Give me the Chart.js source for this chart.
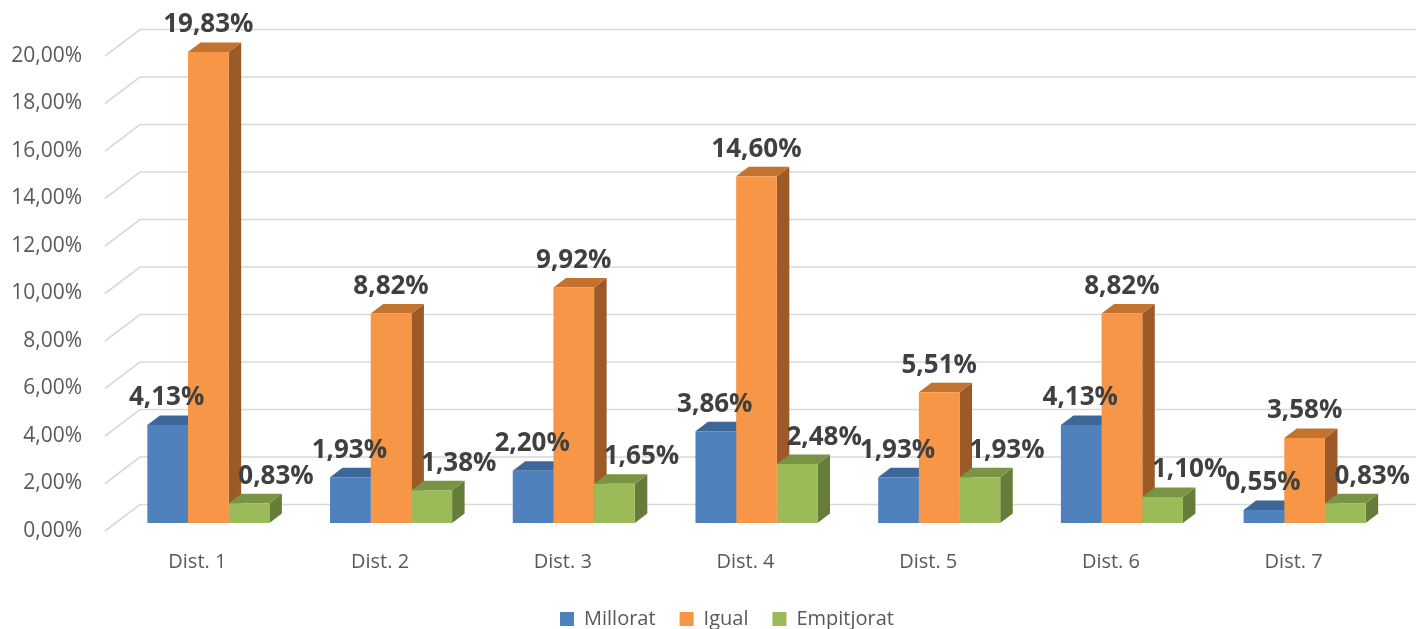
<!DOCTYPE html>
<html><head><meta charset="utf-8">
<script src="https://cdn.jsdelivr.net/npm/chart.js@4.4.1/dist/chart.umd.min.js"></script>
<style>html,body{margin:0;padding:0;background:#fff;overflow:hidden}</style>
</head><body>
<canvas id="c" width="1416" height="629" style="display:block;width:1416px;height:629px"></canvas>
<script>
// ---- data ----
const categories = ['Dist. 1','Dist. 2','Dist. 3','Dist. 4','Dist. 5','Dist. 6','Dist. 7'];
const seriesNames = ['Millorat','Igual','Empitjorat'];
const millorat   = [4.13, 1.93, 2.20, 3.86, 1.93, 4.13, 0.55];
const igual      = [19.83, 8.82, 9.92, 14.60, 5.51, 8.82, 3.58];
const empitjorat = [0.83, 1.38, 1.65, 2.48, 1.93, 1.10, 0.83];
const yTickValues = [0, 2, 4, 6, 8, 10, 12, 14, 16, 18, 20];

// ---- style ----
const FONT = '"Open Sans", "Noto Sans", sans-serif';
const GREY = '#595959';
const DEPTH = {dx: 12.5, dy: -9.5};
const LEGEND_SHIFT = 29;
const fmt = v => v.toFixed(2).replace('.', ',') + '%';

const seriesStyle = [
  {front:'#4F81BD', top:'#3D6798', side:'#34598A', labelShift:-1},
  {front:'#F79646', top:'#C4732F', side:'#9B5A27', labelShift:0},
  {front:'#9BBB59', top:'#7A9445', side:'#667D39', labelShift:27}
];
const values = [millorat, igual, empitjorat];

function poly(ctx, pts){
  ctx.beginPath();
  ctx.moveTo(pts[0][0], pts[0][1]);
  for (let k=1;k<pts.length;k++) ctx.lineTo(pts[k][0], pts[k][1]);
  ctx.closePath();
  ctx.fill();
}

const grid3d = {
  id:'grid3d',
  afterLayout(chart){
    if (chart.legend) { chart.legend.left += LEGEND_SHIFT; chart.legend.right += LEGEND_SHIFT; }
  },
  beforeDatasetsDraw(chart){
    const ctx = chart.ctx, ys = chart.scales.y, ca = chart.chartArea;
    ctx.save();
    ctx.strokeStyle = '#D9D9D9';
    ctx.lineWidth = 1.6;
    ys.ticks.forEach(t => {
      const p = ys.getPixelForValue(t.value);
      ctx.beginPath();
      ctx.moveTo(ca.left - 12, p + 8);
      ctx.lineTo(ca.left + 23, p - 18.5);
      ctx.lineTo(chart.width, p - 18.5);
      ctx.stroke();
    });
    // 3D tops and sides
    const n = chart.data.labels.length;
    for (let i=0;i<n;i++){
      chart.data.datasets.forEach((ds,d) => {
        const el = chart.getDatasetMeta(d).data[i];
        const l = el.x - el.width/2, r = el.x + el.width/2, t = el.y, b = el.base;
        const {dx, dy} = DEPTH;
        ctx.fillStyle = ds.sideColor;
        poly(ctx, [[r,t],[r+dx,t+dy],[r+dx,b+dy],[r,b]]);
        ctx.fillStyle = ds.topColor;
        poly(ctx, [[l,t],[r,t],[r+dx,t+dy],[l+dx,t+dy]]);
      });
    }
    ctx.restore();
  },
  afterDatasetsDraw(chart){
    const ctx = chart.ctx;
    ctx.save();
    ctx.font = 'bold 26px ' + FONT;
    ctx.fillStyle = '#404040';
    ctx.textAlign = 'center';
    ctx.textBaseline = 'middle';
    chart.data.datasets.forEach((ds,d) => {
      chart.getDatasetMeta(d).data.forEach((el,i) => {
        ctx.fillText(fmt(ds.data[i]), el.x + ds.labelShift, el.y - 27);
      });
    });
    ctx.restore();
  }
};

new Chart(document.getElementById('c'), {
  type:'bar',
  data:{
    labels: categories,
    datasets: seriesNames.map((name,k) => ({
      label: name,
      data: values[k],
      backgroundColor: seriesStyle[k].front,
      topColor: seriesStyle[k].top,
      sideColor: seriesStyle[k].side,
      labelShift: seriesStyle[k].labelShift,
      borderWidth: 0,
      categoryPercentage: 0.668,
      barPercentage: 1
    }))
  },
  plugins:[grid3d],
  options:{
    responsive:false,
    animation:false,
    layout:{padding:{top:48, right:20, left:0, bottom:-10}},
    plugins:{
      legend:{
        position:'bottom',
        labels:{boxWidth:14, boxHeight:14, padding:24, color:GREY, font:{family:FONT, size:20}}
      },
      tooltip:{enabled:false}
    },
    scales:{
      x:{
        grid:{display:false, drawTicks:false},
        border:{display:false},
        ticks:{color:GREY, font:{family:FONT, size:20}, padding:27, labelOffset:-11},
        afterFit(s){ s.height = 62; }
      },
      y:{
        min:0, max:20,
        afterBuildTicks(s){ s.ticks = yTickValues.map(v => ({value:v})); },
        grid:{display:false, drawTicks:false},
        border:{display:false},
        ticks:{color:GREY, font:{family:FONT, size:21}, padding:35, labelOffset:8, callback:v => fmt(v)},
        afterFit(s){ s.width = 117; }
      }
    }
  }
});
</script>
</body></html>
